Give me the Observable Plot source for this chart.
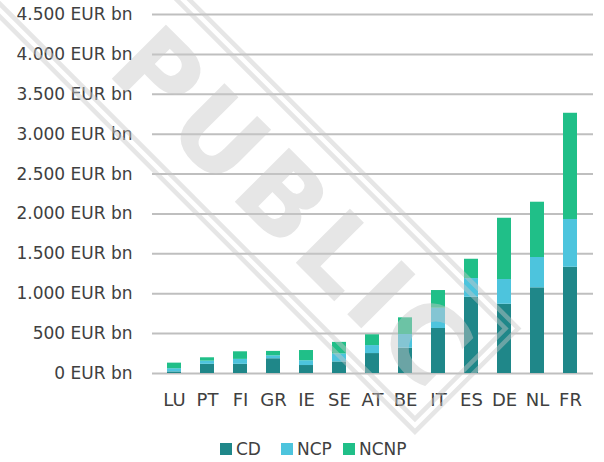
<!DOCTYPE html>
<html>
<head>
<meta charset="utf-8">
<script src="https://cdn.jsdelivr.net/npm/d3@7"></script>
<script src="https://cdn.jsdelivr.net/npm/@observablehq/plot@0.6"></script>
<style>
  html, body { margin: 0; padding: 0; background: #fff; }
  #wrap { position: relative; width: 604px; height: 462px; overflow: hidden; font-family: "DejaVu Sans", sans-serif; color: #404040; }
  #legend { position: absolute; left: 0; top: 0; width: 604px; height: 462px; pointer-events: none; }
  .item { position: absolute; top: 440px; display: flex; align-items: center; font-size: 17px; line-height: 18px; }
  .sw { width: 12px; height: 12px; margin-right: 4px; }
  #wm { position: absolute; left: 0; top: 0; pointer-events: none; }
</style>
</head>
<body>
<div id="wrap"></div>
<script>
const categories = ["LU","PT","FI","GR","IE","SE","AT","BE","IT","ES","DE","NL","FR"];
const cd   = [20, 115, 115, 185, 100, 145, 250, 317, 564, 956, 868, 1074, 1332];
const ncp  = [40,  40,  62,  37,  60, 100, 100, 172, 254, 234, 310,  380,  598];
const ncnp = [70,  42,  95,  55, 128, 145, 135, 209, 222, 242, 768,  693, 1332];
const seriesNames = ["CD", "NCP", "NCNP"];
const seriesColors = ["#1F8789", "#4DC4DD", "#20BF88"];
const yTicks = [0, 500, 1000, 1500, 2000, 2500, 3000, 3500, 4000, 4500];
const yTickLabels = ["0 EUR bn","500 EUR bn","1.000 EUR bn","1.500 EUR bn","2.000 EUR bn","2.500 EUR bn","3.000 EUR bn","3.500 EUR bn","4.000 EUR bn","4.500 EUR bn"];

const seriesValues = [cd, ncp, ncnp];
const rows = categories.flatMap((c, i) =>
  seriesNames.map((s, j) => ({cat: c, series: s, value: seriesValues[j][i]}))
);

const chart = Plot.plot({
  width: 604,
  height: 430,
  marginTop: 14,
  marginBottom: 57,
  marginLeft: 152,
  marginRight: 11,
  style: {fontFamily: "DejaVu Sans, sans-serif", color: "#404040", background: "transparent"},
  x: {domain: categories, paddingInner: 0.572, paddingOuter: 0.286, label: null},
  y: {domain: [0, 4500], label: null},
  color: {domain: seriesNames, range: seriesColors},
  marks: [
    Plot.ruleY(yTicks, {stroke: "#bfbfbf", strokeWidth: 2}),
    Plot.barY(rows, {x: "cat", y: "value", fill: "series", order: seriesNames}),
    Plot.axisX({tickSize: 0, tickPadding: 20, fontSize: 18, label: null, fill: "#404040"}),
    Plot.axisY({ticks: yTicks, tickSize: 0, tickPadding: 20, fontSize: 17, label: null, fill: "#404040",
      tickFormat: d => yTickLabels[yTicks.indexOf(d)]})
  ]
});

const wrap = document.getElementById("wrap");
chart.style.position = "absolute";
chart.style.left = "0px";
chart.style.top = "0px";
wrap.appendChild(chart);

// legend
const legend = document.createElement("div");
legend.id = "legend";
const legendLefts = [220, 281, 343];
seriesNames.forEach((s, i) => {
  const it = document.createElement("div");
  it.className = "item";
  it.style.left = legendLefts[i] + "px";
  const sw = document.createElement("div");
  sw.className = "sw";
  sw.style.background = seriesColors[i];
  const tx = document.createElement("span");
  tx.textContent = s;
  it.appendChild(sw);
  it.appendChild(tx);
  legend.appendChild(it);
});
wrap.appendChild(legend);

// watermark overlay
const svg = d3.select(wrap).append("svg")
  .attr("id", "wm").attr("width", 604).attr("height", 462);
const g = svg.append("g")
  .attr("transform", "translate(468,381.5) rotate(45)")
  .attr("opacity", 0.45);
g.append("rect").attr("x", -900).attr("y", -73).attr("width", 900 - 2).attr("height", 146)
  .attr("fill", "none").attr("stroke", "rgb(200,200,200)").attr("stroke-width", 4.5);
g.append("rect").attr("x", -900).attr("y", -64).attr("width", 900 - 11).attr("height", 128)
  .attr("fill", "none").attr("stroke", "rgb(200,200,200)").attr("stroke-width", 4.5);
g.append("text").attr("x", -245).attr("y", 0).attr("dy", "0.36em")
  .attr("text-anchor", "middle")
  .attr("font-family", "DejaVu Sans, sans-serif").attr("font-weight", "bold")
  .attr("font-size", 105).attr("letter-spacing", 6)
  .attr("fill", "rgb(200,200,200)")
  .text("PUBLIC");
</script>
</body>
</html>
